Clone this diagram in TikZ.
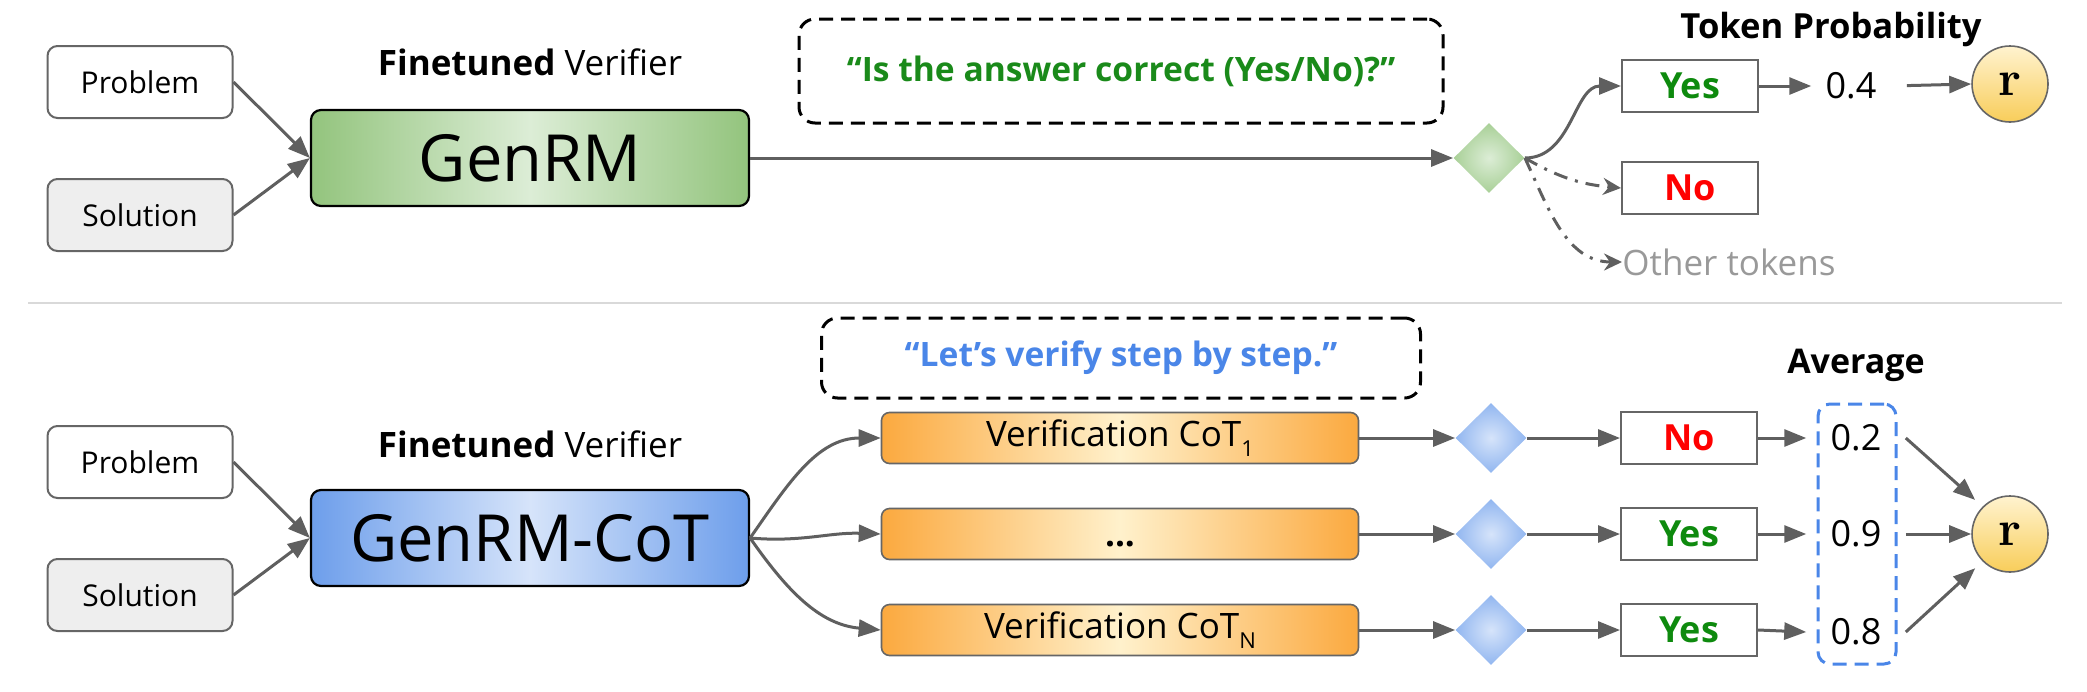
\documentclass[tikz,border=0pt]{standalone}
\usepackage{fontspec}
\setsansfont{Open Sans}
\usetikzlibrary{shapes.geometric,arrows.meta}

\definecolor{arrgray}{HTML}{5F5F5F}
\definecolor{boxgray}{HTML}{666666}
\definecolor{solfill}{HTML}{EEEEEE}
\definecolor{sepgray}{HTML}{D9D9D9}
\definecolor{grnedge}{HTML}{93C47D}
\definecolor{grnmid}{HTML}{DCEDD6}
\definecolor{bluedge}{HTML}{6D9EEB}
\definecolor{blumid}{HTML}{D6E4FA}
\definecolor{orgedge}{HTML}{FBA93F}
\definecolor{orgmid}{HTML}{FFF1CC}
\definecolor{yestxt}{HTML}{0E8A0E}
\definecolor{notxt}{HTML}{FF0000}
\definecolor{asktxt}{HTML}{1A8A1A}
\definecolor{steptxt}{HTML}{4A86E8}
\definecolor{othertxt}{HTML}{999999}
\definecolor{rtop}{HTML}{FFF3CF}
\definecolor{rbot}{HTML}{F8CD5A}

\tikzset{
    inbox/.style={draw=boxgray, line width=1pt, rounded corners=5pt, minimum width=92.5pt,
        minimum height=36pt, inner sep=0pt, font=\sffamily\fontsize{15}{18}\selectfont},
    model/.style={draw=black, line width=1.1pt, rounded corners=5pt, minimum width=219pt,
        minimum height=48pt, inner sep=0pt, font=\sffamily\fontsize{32.5}{36}\selectfont},
    tag/.style={inner sep=0pt, font=\sffamily\fontsize{17.5}{20}\selectfont},
    prompt/.style={draw=black, line width=1.5pt, dash pattern=on 7pt off 4pt, rounded corners=8pt,
        inner sep=0pt, font=\sffamily\bfseries\fontsize{16.8}{19}\selectfont},
    cotbox/.style={draw=boxgray, line width=0.8pt, rounded corners=4pt, minimum width=238.5pt,
        minimum height=25.5pt, inner sep=0pt, left color=orgedge, right color=orgedge,
        middle color=orgmid, font=\sffamily\fontsize{17.5}{20}\selectfont},
    gate/.style={diamond, aspect=1, minimum width=35.5pt, minimum height=35pt, inner sep=0pt},
    ansbox/.style={draw=boxgray, line width=1pt, minimum width=68pt, minimum height=26pt,
        inner sep=0pt, font=\sffamily\bfseries\fontsize{18}{21}\selectfont},
    val/.style={inner ysep=0pt, inner xsep=12pt, font=\sffamily\fontsize{18}{21}\selectfont},
    reward/.style={circle, draw=boxgray, line width=0.8pt, minimum size=38pt, inner sep=0pt,
        top color=rtop, bottom color=rbot, font=\rmfamily\bfseries\fontsize{25}{27}\selectfont},
    flow/.style={draw=arrgray, line width=1.5pt, -{Triangle[length=11pt,width=8.5pt]}},
    alt/.style={draw=arrgray, line width=1.5pt, dash pattern=on 7pt off 4pt on 1.5pt off 4pt,
        -{Stealth[length=9pt,width=8.5pt,inset=3pt]}}
}

\begin{document}
\begin{tikzpicture}[x=0.5pt, y=-0.5pt, font=\sffamily]
    \useasboundingbox (0,0) rectangle (2087,691);

    % top half: GenRM with token probability
    \node[inbox] (prob1) at (140,82) {Problem};
    \node[inbox, fill=solfill] (sol1) at (140,215) {Solution};
    \node[model, left color=grnedge, right color=grnedge, middle color=grnmid] (rm) at (530,158) {GenRM};
    \node[tag] (ftv1) at (530,62) {\textbf{Finetuned} Verifier};
    \draw[flow] (prob1.east) -- (rm.west);
    \draw[flow] (sol1.east) -- (rm.west);

    \node[prompt, minimum width=322pt, minimum height=52pt, text=asktxt] (ask) at (1121,71)
        {“Is the answer correct (Yes/No)?”};
    \node[gate, inner color=grnmid, outer color=grnedge!80] (g0) at (1489,158) {};
    \draw[flow] (rm.east) -- (g0.west);

    \node[ansbox, text=yestxt] (yes0) at (1690,86) {Yes};
    \node[ansbox, text=notxt] (no0) at (1690,188) {No};
    \node[inner sep=0pt, anchor=west, text=othertxt, font=\sffamily\fontsize{17.5}{20}\selectfont] (oth) at (1622,262) {Other tokens};
    \draw[flow] (g0.east) to[out=0, in=180] (yes0.west);
    \draw[alt] (g0.east) to[out=-30, in=175] (no0.west);
    \draw[alt] (g0.east) to[out=-65, in=180] (oth.west);

    \node[tag, font=\sffamily\bfseries\fontsize{17.3}{20}\selectfont] (tokp) at (1831,30) {Token Probability};
    \node[val, inner xsep=7pt] (p0) at (1851,86) {0.4};
    \node[reward] (r1) at (2010,84) {r};
    \draw[flow] (yes0.east) -- (p0.west);
    \draw[flow, shorten <=8pt] (p0.east) -- (r1.west);

    \draw[sepgray, line width=1pt] (28,303) -- (2062,303);

    % bottom half: GenRM-CoT with averaging
    \node[inbox] (prob2) at (140,462) {Problem};
    \node[inbox, fill=solfill] (sol2) at (140,595) {Solution};
    \node[model, left color=bluedge, right color=bluedge, middle color=blumid] (cot) at (530,538) {GenRM-CoT};
    \node[tag] (ftv2) at (530,444) {\textbf{Finetuned} Verifier};
    \draw[flow] (prob2.east) -- (cot.west);
    \draw[flow] (sol2.east) -- (cot.west);

    \node[prompt, minimum width=299.5pt, minimum height=40pt, text=steptxt] (step) at (1121,358)
        {“Let’s verify step by step.”};

    \node[cotbox] (v1) at (1120,438) {Verification CoT\raisebox{-5pt}{\fontsize{11}{11}\selectfont 1}};
    \node[cotbox] (v2) at (1120,534) {\vphantom{V}\textbf{...}};
    \node[cotbox] (v3) at (1120,630) {Verification CoT\raisebox{-5pt}{\fontsize{11}{11}\selectfont N}};
    \draw[flow] (cot.east) to[out=55, in=180] (v1.west);
    \draw[flow] (cot.east) to[out=-5, in=178] (v2.west);
    \draw[flow] (cot.east) to[out=-55, in=175] (v3.west);

    \node[gate, inner color=blumid, outer color=bluedge!75] (g1) at (1491,438) {};
    \node[gate, inner color=blumid, outer color=bluedge!75] (g2) at (1491,534) {};
    \node[gate, inner color=blumid, outer color=bluedge!75] (g3) at (1491,630) {};
    \draw[flow] (v1.east) -- (g1.west);
    \draw[flow] (v2.east) -- (g2.west);
    \draw[flow] (v3.east) -- (g3.west);

    \node[ansbox, text=notxt] (a1) at (1689,438) {No};
    \node[ansbox, text=yestxt] (a2) at (1689,534) {Yes};
    \node[ansbox, text=yestxt] (a3) at (1689,630) {Yes};
    \draw[flow] (g1.east) -- (a1.west);
    \draw[flow] (g2.east) -- (a2.west);
    \draw[flow] (g3.east) -- (a3.west);

    \node[tag, font=\sffamily\bfseries\fontsize{17}{20}\selectfont] (avgt) at (1856,365) {Average};
    \node[draw=steptxt, line width=1.5pt, dash pattern=on 7pt off 4pt, rounded corners=6pt,
        minimum width=39pt, minimum height=130pt] (avg) at (1857,534) {};
    \node[val] (s1) at (1856,438) {0.2};
    \node[val] (s2) at (1856,534) {0.9};
    \node[val] (s3) at (1856,632) {0.8};
    \draw[flow] (a1.east) -- (s1.west);
    \draw[flow] (a2.east) -- (s2.west);
    \draw[flow] (a3.east) -- (s3.west);

    \node[reward] (r2) at (2010,534) {r};
    \draw[flow, shorten >=5pt] (s1.east) -- (r2.north west);
    \draw[flow] (s2.east) -- (r2.west);
    \draw[flow, shorten >=5pt] (s3.east) -- (r2.south west);
\end{tikzpicture}
\end{document}
